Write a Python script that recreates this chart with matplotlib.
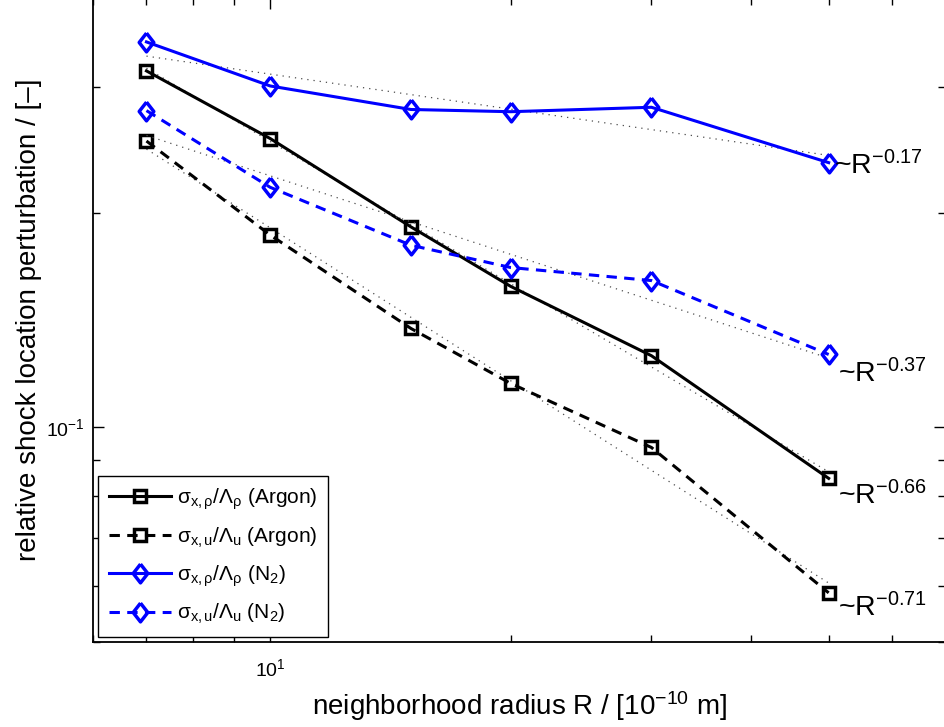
import numpy as np
import matplotlib
matplotlib.use('Agg')
import matplotlib.pyplot as plt
from matplotlib.ticker import LogLocator, NullFormatter

plt.rcParams['font.family'] = ['Liberation Sans', 'DejaVu Sans']
plt.rcParams['mathtext.fontset'] = 'custom'
plt.rcParams['mathtext.rm'] = 'Liberation Sans'
plt.rcParams['mathtext.it'] = 'Liberation Sans'
plt.rcParams['mathtext.bf'] = 'Liberation Sans:bold'

# neighborhood radius R / [1e-10 m]
radius = [7, 10, 15, 20, 30, 50]

# relative shock location perturbation
argon_rho = [0.316, 0.254, 0.191, 0.1576, 0.126, 0.0848]
argon_u = [0.252, 0.186, 0.1376, 0.1152, 0.0937, 0.0586]
n2_rho = [0.347, 0.301, 0.279, 0.277, 0.281, 0.235]
n2_u = [0.278, 0.217, 0.180, 0.1675, 0.1606, 0.1265]

labels = [r'$\mathrm{\sigma_{x,\rho}/\Lambda_\rho}$ (Argon)',
          r'$\mathrm{\sigma_{x,u}/\Lambda_u}$ (Argon)',
          r'$\mathrm{\sigma_{x,\rho}/\Lambda_\rho}$ (N$_2$)',
          r'$\mathrm{\sigma_{x,u}/\Lambda_u}$ (N$_2$)']
exponents = ['-0.66', '-0.71', '-0.17', '-0.37']

series = [argon_rho, argon_u, n2_rho, n2_u]
colors = ['k', 'k', '#0000ff', '#0000ff']
styles = ['-', '--', '-', '--']
diamond = [(0, 1), (0.78, 0), (0, -1), (-0.78, 0), (0, 1)]
markers = ['s', 's', diamond, diamond]
msizes = [8.5, 8.5, 13.5, 13.5]
# label offsets (points) from the last point, text on baseline
offsets = [(6.5, -18.7), (6.5, -17), (3.6, -8.6), (6.5, -20)]

fig = plt.figure(figsize=(9.44, 7.27), dpi=100)
ax = fig.add_axes([0.0985, 0.1169, 0.903, 0.886])

x = np.array(radius)
for y, c, ls, m, ms, lab, ex, off in zip(series, colors, styles, markers,
                                         msizes, labels, exponents, offsets):
    y = np.array(y)
    # power law fit (dotted)
    p = np.polyfit(np.log10(x), np.log10(y), 1)
    ax.plot(x, 10 ** np.polyval(p, np.log10(x)), color='0.3', lw=0.9,
            dashes=(1, 4))
    line, = ax.plot(x, y, color=c, marker=m, ms=ms, mfc='none', mew=2.5,
                    lw=2.2, label=lab)
    if ls == '--':
        line.set_dashes((3.4, 2.4))
    ax.annotate('~R$^{' + ex + '}$',
                xy=(x[-1], y[-1]), xytext=off, textcoords='offset points',
                ha='left', va='baseline', fontsize=20.5)

ax.set_xscale('log')
ax.set_yscale('log')
ax.set_xlim(6, 70)
ax.set_ylim(0.05, 0.4)

ax.xaxis.set_major_locator(LogLocator(base=10, numticks=10))
ax.yaxis.set_major_locator(LogLocator(base=10, numticks=10))
ax.xaxis.set_minor_locator(LogLocator(base=10, subs=np.arange(2, 10), numticks=10))
ax.yaxis.set_minor_locator(LogLocator(base=10, subs=np.arange(2, 10), numticks=10))
ax.xaxis.set_minor_formatter(NullFormatter())
ax.yaxis.set_minor_formatter(NullFormatter())

ax.tick_params(which='both', direction='in', top=True, right=True,
               labelsize=14, width=1)
ax.tick_params(which='major', length=8)
ax.tick_params(which='minor', length=5)
ax.tick_params(axis='x', which='major', pad=12)
ax.tick_params(axis='y', which='major', pad=6)
for s in ax.spines.values():
    s.set_linewidth(1.3)

ax.set_xlabel('neighborhood radius R / [10$^{-10}$ m]', fontsize=20,
              labelpad=6)
ax.set_ylabel('relative shock location perturbation / [\u2013]', fontsize=20,
              labelpad=3)

leg = ax.legend(loc='lower left', fontsize=15, handlelength=3.0,
                borderaxespad=0.25, fancybox=False, framealpha=1,
                edgecolor='k', borderpad=0.5, labelspacing=0.65,
                handletextpad=0.3)
leg.get_frame().set_linewidth(1.0)

fig.savefig('out.png', dpi=100)
